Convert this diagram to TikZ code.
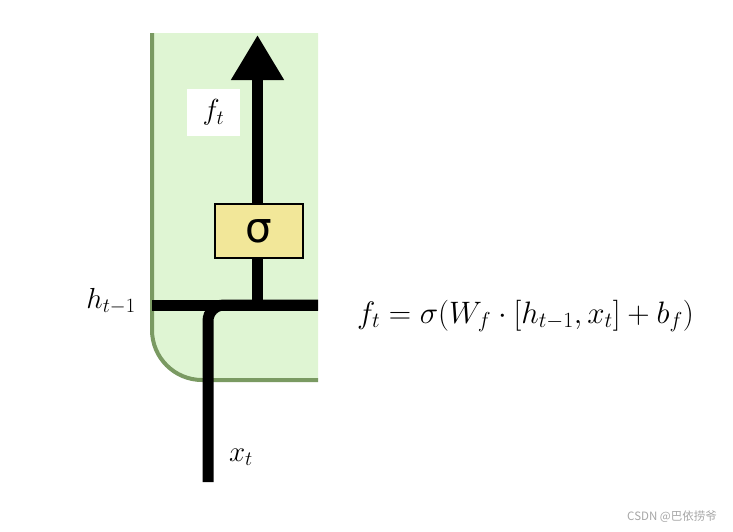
\RequirePackage{fix-cm}
\documentclass[tikz,border=0pt]{standalone}
\usepackage{fontspec}
\newfontfamily\sigfont{DejaVu Sans}
\newfontfamily\cjk{Noto Sans CJK SC}
\usetikzlibrary{arrows.meta}
\definecolor{panelfill}{HTML}{DFF5D3}
\definecolor{panelline}{HTML}{7A9A62}
\definecolor{gatefill}{HTML}{F2E799}
\tikzset{
  wire/.style={line width=11pt, black},
  gate/.style={draw=black, line width=1.2pt, fill=gatefill, minimum width=88pt, minimum height=54pt, inner sep=0pt},
  lbl/.style={inner sep=0pt, font=\fontsize{29}{33}\selectfont},
}
\begin{document}
\begin{tikzpicture}[x=1pt,y=-1pt]
\useasboundingbox (0,0) rectangle (733,531);
% panel
\fill[panelfill] (152,33) -- (318,33) -- (318,380) -- (202,380)
  .. controls (174.4,380) and (152,357.6) .. (152,330) -- cycle;
\draw[panelline, line width=4pt] (152,33) -- (152,330)
  .. controls (152,357.6) and (174.4,380) .. (202,380) -- (318,380);
% nodes
\node[gate] (sig) at (259,231) {\sigfont\fontsize{42}{46}\selectfont σ};
\node[fill=white, minimum width=53pt, minimum height=47pt, inner sep=0pt] (ftbox) at (213.5,112.5) {};
\node[lbl] (ft) at (ftbox.center) {$f_t$};
\node[lbl] (ht) at (111,301) {$h_{t-1}$};
\node[lbl] (xt) at (241,457) {$x_t$};
\node[inner sep=0pt, font=\fontsize{31}{36}\selectfont] (eq) at (525.5,316)
  {$f_t = \sigma(W_f \cdot [h_{t-1},x_t] + b_f)$};
\node[inner sep=0pt, text=gray!70, font=\cjk\fontsize{11.5}{13}\selectfont] (wm) at (672,517) {CSDN @巴依捞爷};
% coordinates
\coordinate (tip) at (257.5,35);
\coordinate (hL) at (152,305);
\coordinate (hR) at (318,305);
\coordinate (jn) at (257.5,305);
\coordinate (xb) at (208,482);
% wires
\draw[wire] (hL) -- (hR);
\draw[wire] (sig.south -| jn) -- (jn);
\draw[wire, -{Triangle[width=50pt,length=45pt]}] (sig.north -| tip) -- (tip);
\draw[wire, rounded corners=16pt] (xb) |- (hR);
\end{tikzpicture}
\end{document}
